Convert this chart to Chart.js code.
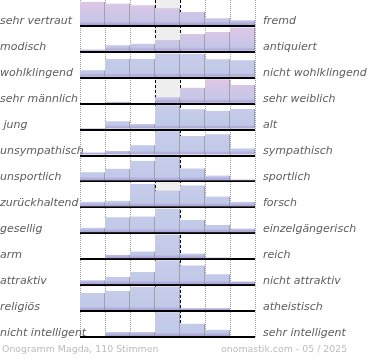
<!DOCTYPE html>
<html><head><meta charset="utf-8">
<script src="https://cdn.jsdelivr.net/npm/chart.js@4.4.1/dist/chart.umd.min.js"></script>
<style>html,body{margin:0;padding:0;background:#fff;}canvas{display:block;}</style>
</head><body>
<canvas id="c" width="370" height="360"></canvas>
<script>
// ---- data ----
const categories = ['-3', '-2', '-1', '0', '1', '2', '3'];
const leftLabels = ['sehr vertraut', 'modisch', 'wohlklingend', 'sehr männlich', ' jung', 'unsympathisch', 'unsportlich', 'zurückhaltend', 'gesellig', 'arm', 'attraktiv', 'religiös', 'nicht intelligent'];
const rightLabels = ['fremd', 'antiquiert', 'nicht wohlklingend', 'sehr weiblich', 'alt', 'sympathisch', 'sportlich', 'forsch', 'einzelgängerisch', 'reich', 'nicht attraktiv', 'atheistisch', 'sehr intelligent'];
const vertraut = [98, 91, 84, 72, 56, 31, 23];
const modisch = [9, 27, 33, 48, 72, 80, 99];
const wohlklingend = [30, 76, 76, 97, 97, 75, 71];
const maennlich = [0, 8, 0, 26, 65, 99, 76];
const jung = [7, 34, 23, 98, 82, 76, 84];
const unsympathisch = [12, 18, 42, 98, 79, 86, 29];
const unsportlich = [37, 51, 84, 98, 53, 24, 8];
const zurueckhaltend = [23, 27, 95, 68, 89, 44, 23];
const gesellig = [23, 65, 68, 98, 54, 34, 19];
const arm = [4, 18, 31, 99, 23, 7, 0];
const attraktiv = [20, 33, 53, 100, 80, 44, 15];
const religioes = [73, 82, 99, 99, 11, 11, 0];
const unintelligent = [0, 20, 20, 100, 54, 29, 0];
const rows = [vertraut, modisch, wohlklingend, maennlich, jung, unsympathisch, unsportlich, zurueckhaltend, gesellig, arm, attraktiv, religioes, unintelligent];
const footerLeft = 'Onogramm Magda, 110 Stimmen';
const footerRight = 'onomastik.com - 05 / 2025';

// ---- style ----
const pinkRows = [0, 1, 3];
function barFill(ctx) {
  const chart = ctx.chart;
  const s = chart.scales['y' + ctx.datasetIndex];
  if (!s || !chart.chartArea) return '#c3cbe8';
  const g = chart.ctx.createLinearGradient(0, s.top, 0, s.bottom);
  if (pinkRows.includes(ctx.datasetIndex)) {
    g.addColorStop(0, '#e0c7e7');
    g.addColorStop(0.45, '#d2c6e6');
    g.addColorStop(0.82, '#c4c6e7');
  } else {
    g.addColorStop(0, '#c7cdea');
    g.addColorStop(0.82, '#c1c9e8');
  }
  g.addColorStop(0.88, '#b6b3de');
  g.addColorStop(1, '#a39bcf');
  return g;
}

const decor = {
  id: 'decor',
  beforeDraw(chart) {
    const {ctx, chartArea: a, scales: {x}} = chart;
    const w = x.width / categories.length;
    const cx = x.getPixelForValue(3);
    ctx.save();
    ctx.fillStyle = '#eeeeee';
    ctx.fillRect(cx - w / 2, a.top, w, a.bottom - a.top);
    ctx.restore();
  },
  afterDraw(chart) {
    const {ctx, chartArea: a} = chart;
    ctx.save();
    ctx.textBaseline = 'alphabetic';
    ctx.textAlign = 'left';
    ctx.font = 'italic 11px "DejaVu Sans"';
    ctx.fillStyle = '#5e5e5e';
    leftLabels.forEach((t, i) => {
      const s = chart.scales['y' + i];
      const yb = s.bottom - 1.5;
      ctx.fillText(t, 0, yb);
      ctx.fillText(rightLabels[i], a.right + 8, yb);
    });
    ctx.font = '9.4px "DejaVu Sans"';
    ctx.fillStyle = '#bcbcbc';
    ctx.fillText(footerLeft, 2, chart.height - 8);
    ctx.fillText(footerRight, 221, chart.height - 8);
    ctx.restore();
  }
};

const scales = {
  x: {
    type: 'category', offset: true,
    grid: {offset: true, drawTicks: false, lineWidth: 1,
      color: c => (c.index === 3 || c.index === 4) ? 'rgba(0,0,0,0)' : '#9a9a9a'},
    border: {display: false, dash: [1, 1]},
    ticks: {display: false}
  },
  x2: {
    type: 'category', offset: true, position: 'bottom', z: 2,
    grid: {offset: true, drawTicks: false, lineWidth: 1,
      color: c => (c.index === 3 || c.index === 4) ? '#000000' : 'rgba(0,0,0,0)'},
    border: {display: false, dash: [3, 2]},
    ticks: {display: false}
  }
};
rows.forEach((r, i) => {
  scales['y' + i] = {
    type: 'linear', position: 'left', stack: 'rows', stackWeight: 1, weight: rows.length - i,
    min: 0, max: 105, z: 1,
    ticks: {display: false, stepSize: 105},
    grid: {drawTicks: false, lineWidth: 2,
      color: c => (c.tick && c.tick.value === 0) ? '#000000' : 'rgba(0,0,0,0)'},
    border: {display: false}
  };
});

new Chart(document.getElementById('c'), {
  type: 'bar',
  data: {
    labels: categories,
    datasets: rows.map((r, i) => ({
      data: r,
      xAxisID: 'x',
      yAxisID: 'y' + i,
      grouped: false,
      backgroundColor: barFill,
      borderColor: '#8e8e8e',
      borderWidth: {left: 0, right: 1, top: 0, bottom: 0},
      borderSkipped: false,
      barPercentage: 1,
      categoryPercentage: 1
    }))
  },
  options: {
    responsive: false,
    animation: false,
    events: [],
    layout: {padding: {left: 80, right: 115, top: 0, bottom: 23}},
    plugins: {legend: {display: false}, tooltip: {enabled: false}, title: {display: false}},
    scales
  },
  plugins: [decor]
});
</script>
</body></html>
